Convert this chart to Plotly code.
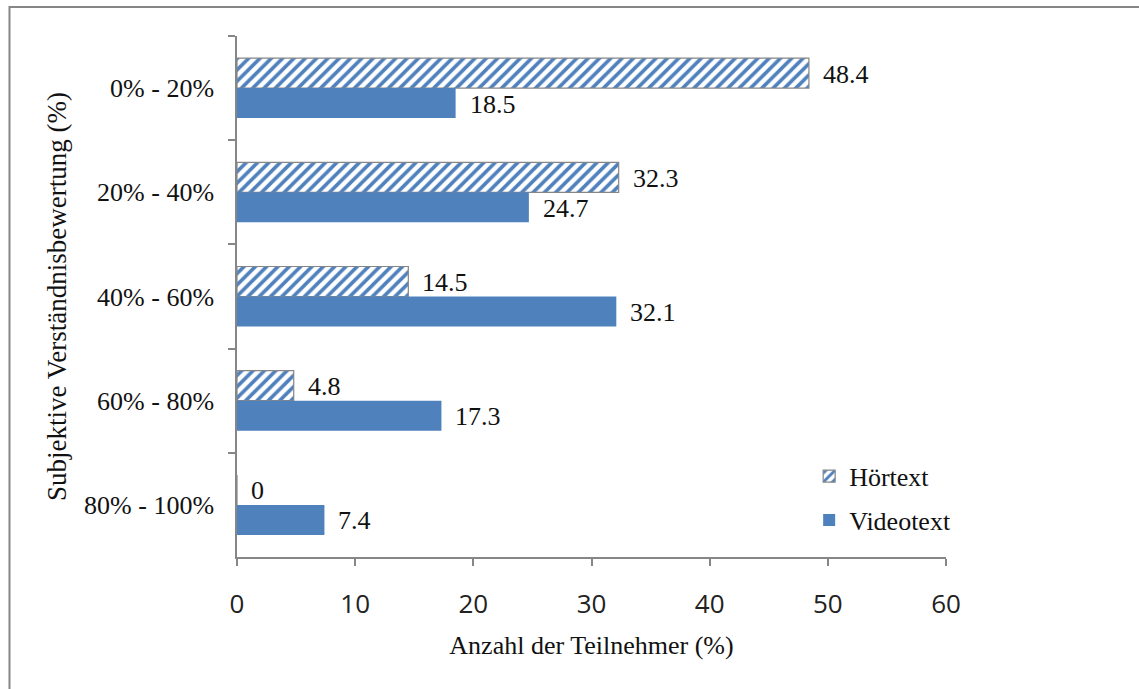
import plotly.graph_objects as go

categories = ["0% - 20%", "20% - 40%", "40% - 60%", "60% - 80%", "80% - 100%"]
hoertext = [48.4, 32.3, 14.5, 4.8, 0]
videotext = [18.5, 24.7, 32.1, 17.3, 7.4]
x_ticks = [0, 10, 20, 30, 40, 50, 60]

BLUE = "#4F81BD"
GRAY = "#868686"
SERIF = "Liberation Serif, Times New Roman, serif"
SANS = "Open Sans, Noto Sans, sans-serif"
FS = 26

fig = go.Figure()
fig.add_trace(go.Bar(
    y=categories, x=hoertext, orientation="h", name="Hörtext",
    legendgroup="h",
    marker=dict(color="white",
                pattern=dict(shape="/", fgcolor=BLUE, bgcolor="white",
                             fgopacity=1, size=8, solidity=0.45),
                line=dict(color=GRAY, width=1.2)),
))
fig.add_trace(go.Bar(
    y=categories, x=videotext, orientation="h", name="Videotext",
    legendgroup="v",
    marker=dict(color=BLUE, line=dict(width=0)),
))

annotations = []
for cat, v in zip(categories, hoertext):
    annotations.append(dict(x=v, y=cat, xref="x", yref="y", text=f"{v:g}",
                            showarrow=False, xanchor="left", yanchor="middle",
                            xshift=12, yshift=14,
                            font=dict(family=SERIF, size=FS, color="#111")))
for cat, v in zip(categories, videotext):
    annotations.append(dict(x=v, y=cat, xref="x", yref="y", text=f"{v:g}",
                            showarrow=False, xanchor="left", yanchor="middle",
                            xshift=12, yshift=-16,
                            font=dict(family=SERIF, size=FS, color="#111")))

fig.update_layout(
    width=1139, height=689,
    margin=dict(l=237, r=193, t=36, b=132),
    paper_bgcolor="white", plot_bgcolor="white",
    barmode="group", bargap=0.424, bargroupgap=0,
    annotations=annotations,
    showlegend=True,
    legend=dict(x=0.807, y=0.2, xanchor="left", yanchor="top",
                font=dict(family=SERIF, size=FS, color="#111"),
                bgcolor="rgba(0,0,0,0)", tracegroupgap=7,
                traceorder="grouped", itemwidth=30),
    shapes=[dict(type="path", xref="paper", yref="paper",
                 path="M -0.3209 -0.26 L -0.3209 1.0557 L 1.28 1.0557",
                 line=dict(color=GRAY, width=2))],
)
fig.update_xaxes(
    range=[0, 60], tickvals=x_ticks, showgrid=False, zeroline=False,
    showline=True, linecolor=GRAY, linewidth=1.5,
    ticks="outside", ticklen=7, tickcolor=GRAY, tickwidth=1.5,
    ticklabelstandoff=16,
    tickfont=dict(family=SANS, size=FS, color="#222"),
    title=dict(text="Anzahl der Teilnehmer (%)", standoff=16,
               font=dict(family=SERIF, size=FS, color="#111")),
)
fig.update_yaxes(
    autorange="reversed", showgrid=False, zeroline=False,
    showline=True, linecolor=GRAY, linewidth=1.5,
    ticks="outside", ticklen=7, tickcolor=GRAY, tickwidth=1.5,
    tickson="boundaries", ticklabelstandoff=16,
    tickfont=dict(family=SERIF, size=FS, color="#111"),
    title=dict(text="Subjektive Verständnisbewertung (%)", standoff=10,
               font=dict(family=SERIF, size=27, color="#111")),
)

fig.write_html("out.html", config={"displayModeBar": False},
               post_script="document.body.style.margin='0px';")
